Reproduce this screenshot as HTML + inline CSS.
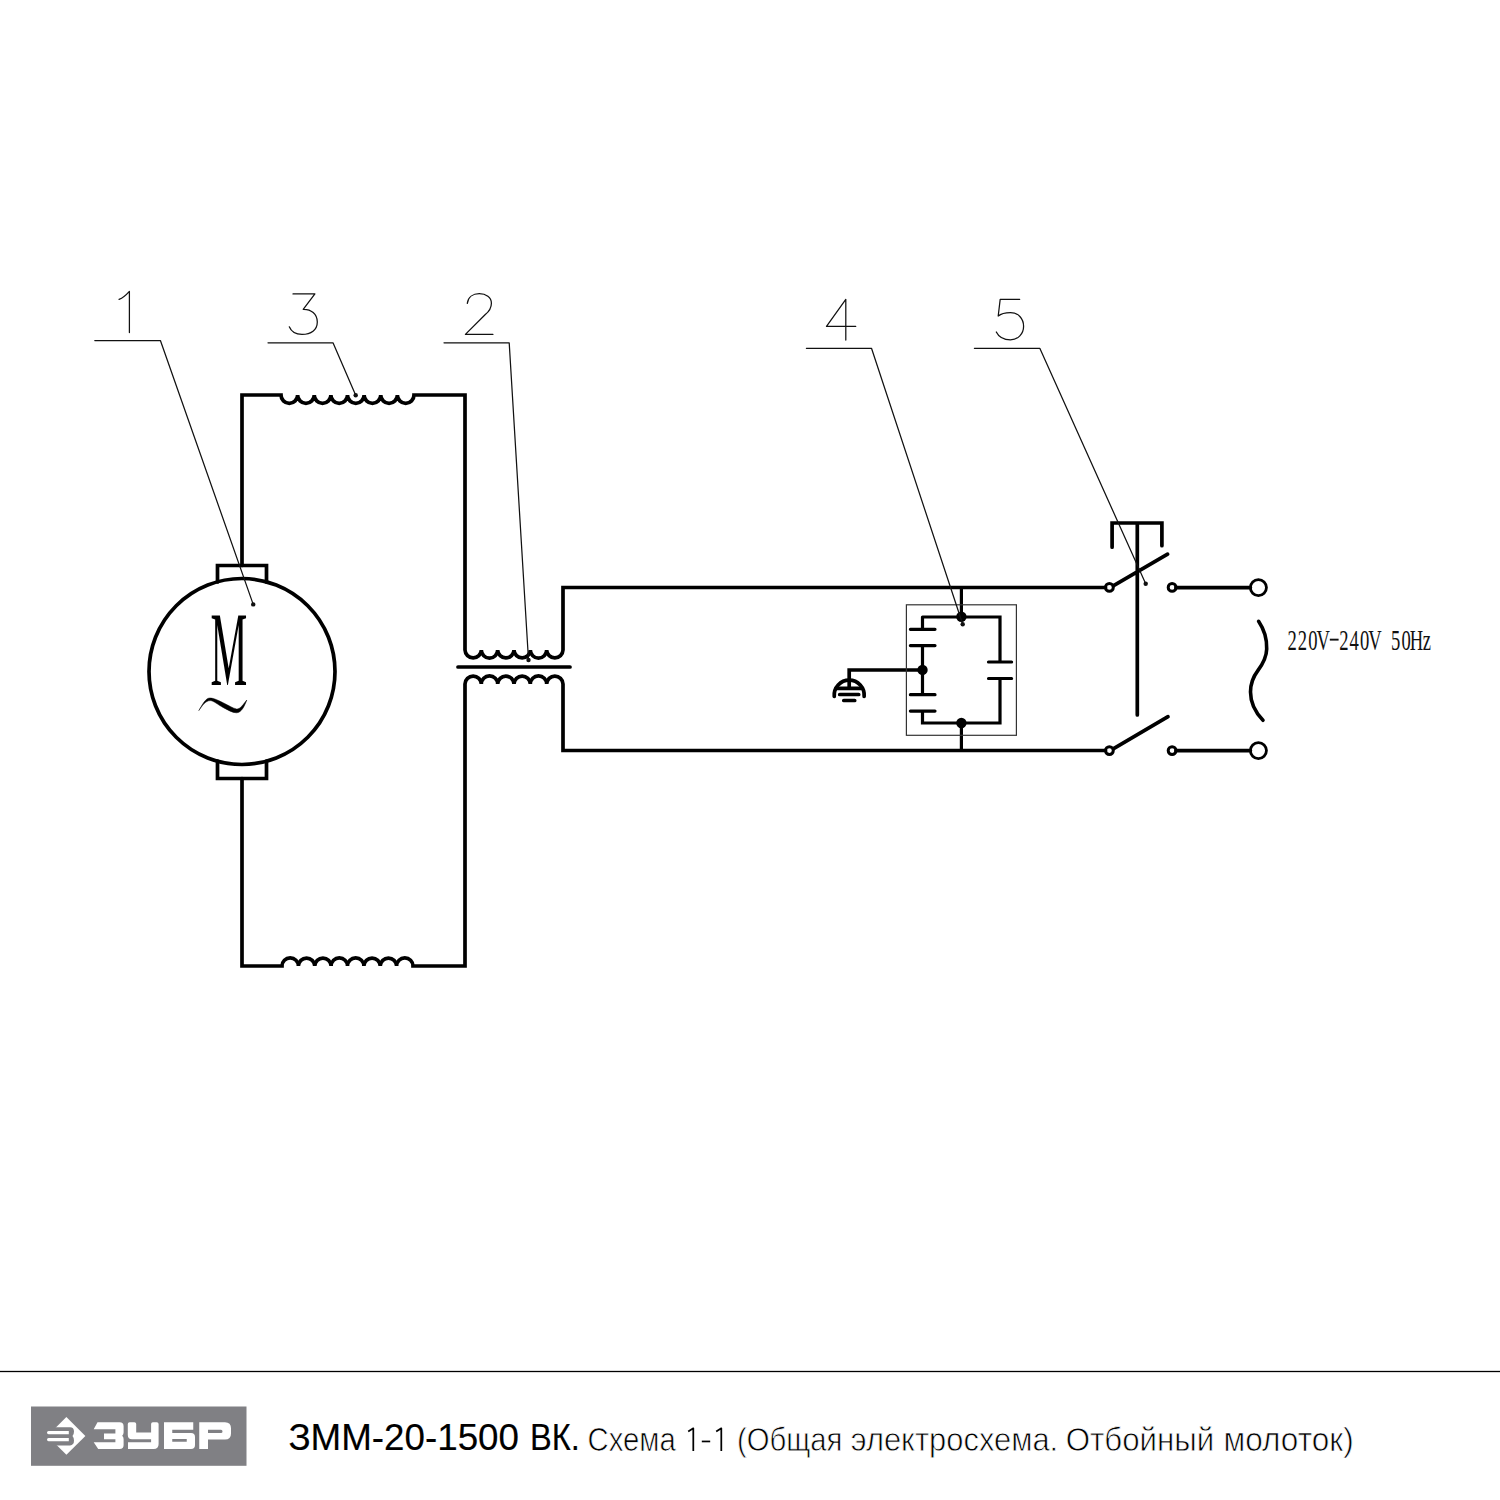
<!DOCTYPE html>
<html><head><meta charset="utf-8">
<style>
html,body{margin:0;padding:0;background:#fff;}
body{width:1500px;height:1500px;position:relative;overflow:hidden;}
svg{position:absolute;left:0;top:0;}
.ft{font-size:36.5px;fill:#000;stroke:#000;stroke-width:0.15px;}
.fs{font-size:34px;fill:#000;stroke:#fff;stroke-width:0.75px;}
.t{position:absolute;white-space:nowrap;font-family:"Liberation Sans",sans-serif;color:#000;}
</style></head><body>
<svg width="1500" height="1500" viewBox="0 0 1500 1500">
<g fill="none" stroke="#000" stroke-width="3.7" stroke-linecap="round" stroke-linejoin="miter">
<path d="M242,565.5 V395 H281 A8.31,8.31 0 0 0 297.62,395 A8.31,8.31 0 0 0 314.25,395 A8.31,8.31 0 0 0 330.88,395 A8.31,8.31 0 0 0 347.50,395 A8.31,8.31 0 0 0 364.12,395 A8.31,8.31 0 0 0 380.75,395 A8.31,8.31 0 0 0 397.38,395 A8.31,8.31 0 0 0 414.00,395 H465 V650 A8.17,8.17 0 0 0 481.33,650 A8.17,8.17 0 0 0 497.67,650 A8.17,8.17 0 0 0 514.00,650 A8.17,8.17 0 0 0 530.33,650 A8.17,8.17 0 0 0 546.67,650 A8.17,8.17 0 0 0 563.00,650 V587.5 H1105.5"/>
<path d="M242,778.5 V966 H282 A8.19,8.19 0 0 1 298.38,966 A8.19,8.19 0 0 1 314.75,966 A8.19,8.19 0 0 1 331.12,966 A8.19,8.19 0 0 1 347.50,966 A8.19,8.19 0 0 1 363.88,966 A8.19,8.19 0 0 1 380.25,966 A8.19,8.19 0 0 1 396.62,966 A8.19,8.19 0 0 1 413.00,966 H465 V684 A8.17,8.17 0 0 1 481.33,684 A8.17,8.17 0 0 1 497.67,684 A8.17,8.17 0 0 1 514.00,684 A8.17,8.17 0 0 1 530.33,684 A8.17,8.17 0 0 1 546.67,684 A8.17,8.17 0 0 1 563.00,684 V750.5 H1105.5"/>
<path d="M458,667 H570"/>
<path d="M217.5,582 V565.5 H266.5 V582"/>
<path d="M217.5,761 V778.5 H266.5 V761"/>
<path d="M922.5,670 H849.2 V688.3 M836.3,688.3 H861.3 M839.7,694.5 H858.7 M843.8,700.5 H854.7"/>
<path d="M834.25,696.3 A15,15 0 1 1 864.15,696.3"/>
<path d="M1113.6,585.6 L1167.6,554.1 M1113.6,748.7 L1168,716.6 M1137.3,523 V715 M1112.1,547.2 V523 H1161.9 V545.7"/>
<path d="M1176,587.6 H1250.4 M1176,750.6 H1250.4"/>
<circle cx="242" cy="671.5" r="93"/>
<path stroke-width="3.2" d="M961.4,587.5 V617 M922.5,617 H1000 V662 M922.5,617 V629.3 M910.4,629.3 H935 M910.4,645.6 H935 M922.5,645.6 V694.7 M910.4,694.7 H935 M910.4,711.1 H935 M922.5,711.1 V723 H1000 V678.5 M988.5,662 H1011.6 M988.5,678.5 H1011.6 M961.4,723 V750.5"/>
<circle cx="1109.4" cy="587.4" r="3.9" stroke-width="3"/>
<circle cx="1172.1" cy="587.4" r="3.9" stroke-width="3"/>
<circle cx="1109.4" cy="750.6" r="3.9" stroke-width="3"/>
<circle cx="1172.1" cy="750.6" r="3.9" stroke-width="3"/>
<circle cx="1258.4" cy="587.6" r="8.05" stroke-width="2.8"/>
<circle cx="1258.4" cy="750.6" r="8.05" stroke-width="2.8"/>
<path d="M1258.6,621.3 C1264.5,630 1267,640 1266.7,649 C1266.5,658 1262,665 1258,670.4 C1253,677 1250.5,684 1250.5,692 C1250.5,703 1255,712 1263,720.3" stroke-width="3.6"/>
</g>
<g fill="#000">
<circle cx="961.4" cy="616.8" r="5.2"/>
<circle cx="961.4" cy="723" r="5.2"/>
<circle cx="922.5" cy="669.9" r="5.2"/>
</g>
<!-- box -->
<rect x="906.4" y="604.8" width="110" height="130.5" fill="none" stroke="#333" stroke-width="1.2"/>
<!-- leaders -->
<g fill="none" stroke="#111" stroke-width="1.25" stroke-linecap="round" stroke-linejoin="round">
<path d="M94.8,340.5 H160.4 L253.2,604.4"/>
<path d="M268,342.8 H333 L355.7,395.3"/>
<path d="M444,342.8 H509.2 L528.5,660"/>
<path d="M806.4,348.3 H871.5 L962.7,624.3"/>
<path d="M974.4,348.3 H1039.8 L1145.7,583.8"/>
<path d="M119.1,299.4 Q124,297.5 129.4,291.4 V332.5"/>
<path d="M293,293.9 H314.9 L303.2,309.3 C311,309 317.3,314 317.3,322 C317.3,330 311,334.4 302,334.4 C295,334.4 291,331 289.3,326.8"/>
<path d="M467.3,303.4 C468,297 473,293.7 479.3,293.7 C486,293.7 491.4,297.5 491.4,303.2 C491.4,308 489,311.5 485.3,314.5 L465.4,334.4 H492.9"/>
<path d="M845.8,340 V299.3 L826.5,326.4 H855.7"/>
<path d="M1019.7,299.3 H1000.2 L998.2,316 C1001,313.5 1006,312.5 1010.5,312.5 C1018,312.5 1023.6,318.5 1023.6,326.3 C1023.6,334 1018,339.8 1010.5,339.8 C1003.5,339.8 998.5,336.5 996.3,332"/>
</g>
<g fill="#111">
<circle cx="253.2" cy="604.4" r="2.2"/>
<circle cx="355.7" cy="395.3" r="2.2"/>
<circle cx="528.5" cy="660" r="2.2"/>
<circle cx="962.7" cy="624.3" r="2.2"/>
<circle cx="1145.7" cy="583.8" r="2.2"/>
</g>
<!-- M and tilde -->
<text x="0" y="0" font-family="Liberation Serif" font-size="106" transform="translate(210.6,684.5) scale(0.39,1)">M</text>
<path d="M198.8,710.6 C202.5,704.5 205.5,698 210,698 C214,698 219,700.8 224,703.2 C229,705.7 233,708.2 236.5,709 C240,709.6 243.5,704 246.8,700 C244.5,706 241.5,712.8 236.4,712.8 C232.5,712.8 228,710 223,707.4 C218,704.8 213.5,700.6 210.2,700.6 C205.5,700.6 202,706 198.8,710.6 Z" fill="#000" stroke="#000" stroke-width="0.5"/>
<g font-family="Liberation Serif" font-size="30" fill="#111"><text x="0" y="0" transform="translate(1287.43,650.2) scale(0.62,1)">2</text><text x="0" y="0" transform="translate(1297.79,650.2) scale(0.62,1)">2</text><text x="0" y="0" transform="translate(1308.15,650.2) scale(0.62,1)">0</text><text x="0" y="0" transform="translate(1316.44,650.2) scale(0.62,1)">V</text><rect x="1329.8" y="638.7" width="8.8" height="1.9"/><text x="0" y="0" transform="translate(1339.23,650.2) scale(0.62,1)">2</text><text x="0" y="0" transform="translate(1349.59,650.2) scale(0.62,1)">4</text><text x="0" y="0" transform="translate(1359.95,650.2) scale(0.62,1)">0</text><text x="0" y="0" transform="translate(1368.24,650.2) scale(0.62,1)">V</text><text x="0" y="0" transform="translate(1391.03,650.2) scale(0.62,1)">5</text><text x="0" y="0" transform="translate(1401.39,650.2) scale(0.62,1)">0</text><text x="0" y="0" transform="translate(1409.68,650.2) scale(0.62,1)">H</text><text x="0" y="0" transform="translate(1422.63,650.2) scale(0.62,1)">z</text></g>
<g font-family="Liberation Sans"><text class="ft" transform="translate(288.40,1450.3) scale(1.0074,1)">ЗММ-20-1500</text><text class="ft" transform="translate(529.90,1450.3) scale(0.8941,1)">ВК.</text><text class="fs" transform="translate(587.50,1451) scale(0.8634,1)">Схема</text><text class="fs" transform="translate(736.90,1451) scale(0.8604,1)">(Общая</text><text class="fs" transform="translate(850.80,1451) scale(0.9089,1)">электросхема.</text><text class="fs" transform="translate(1065.70,1451) scale(0.9196,1)">Отбойный</text><text class="fs" transform="translate(1223.50,1451) scale(0.9287,1)">молоток)</text><path d="M688.2,1431.6 L693.3,1428.3 V1450.9 M716.2,1431.6 L721.3,1428.3 V1450.9" fill="none" stroke="#000" stroke-width="1.75" stroke-linejoin="round"/><rect x="701.8" y="1440.6" width="8.4" height="1.7" fill="#000"/></g>
<!-- footer line -->
<rect x="0" y="1370.85" width="1500" height="1.3" fill="#000"/>
<!-- logo -->
<rect x="31" y="1406.5" width="215.5" height="59.3" fill="#808084"/>
<g fill="#fff">
<polygon points="66.4,1417 85.4,1436 66.4,1454.8 47.4,1436"/>
<path fill="#808084" d="M45,1427.2 H70 Q74,1427.2 74,1431.6 Q74,1434.4 72.5,1436 Q74,1437.6 74,1440.6 Q74,1445.4 70,1445.4 H45 Z"/>
<path d="M48.6,1431 H68.8 V1434.2 H48.6 Q47,1434.2 47,1432.6 Q47,1431 48.6,1431 Z M48.6,1438 H68.8 V1441.2 H48.6 Q47,1441.2 47,1439.6 Q47,1438 48.6,1438 Z"/>
<path d="M97.5,1422.2 H119.6 Q123.6,1422.2 123.6,1426.2 V1432.5 Q123.6,1434.5 122.2,1435.7 Q123.6,1437 123.6,1439 V1445 Q123.6,1449 119.6,1449 H98.2 L93.7,1442.3 H115.4 V1439.2 H104 V1433.4 H115.4 V1429.2 H93.7 Z"/>
<path d="M127.8,1424 Q127.8,1422.2 129.6,1422.2 H134.4 Q136.2,1422.2 136.2,1424 V1432.5 H151.1 V1424 Q151.1,1422.2 152.9,1422.2 H156.8 Q158.6,1422.2 158.6,1424 V1444 Q158.6,1449 153.6,1449 H128 V1442.3 H151.1 V1439.2 H132 Q127.8,1439.2 127.8,1435 Z"/>
<path fill-rule="evenodd" d="M164,1422.2 H193.25 V1429.75 H172.25 V1433 H191 Q195,1433 195,1437 V1445 Q195,1449 191,1449 H164 Z M172.25,1439 H186.75 V1441.75 H172.25 Z"/>
<path fill-rule="evenodd" d="M199.25,1422.2 H225 Q231,1422.2 231,1428.2 V1433.5 Q231,1439.5 225,1439.5 H208 V1449 H199.25 Z M208,1429.75 H221 Q222.5,1429.75 222.5,1431.4 Q222.5,1433 221,1433 H208 Z"/>
</g>
</svg>
</body></html>
